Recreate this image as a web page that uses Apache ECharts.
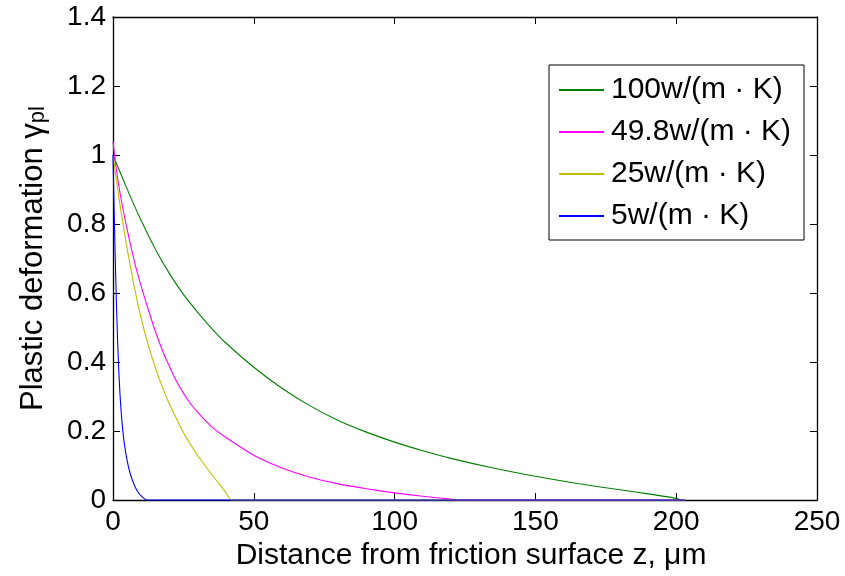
<!DOCTYPE html>
<html>
<head>
<meta charset="utf-8">
<script src="https://cdn.jsdelivr.net/npm/echarts@6/dist/echarts.min.js"></script>
<style>html,body{margin:0;padding:0;background:#fff;}#c{width:845px;height:576px;}</style>
</head>
<body>
<div id="c"></div>
<script>
// Data
var seriesNames = ['100w/(m \u00b7 K)', '49.8w/(m \u00b7 K)', '25w/(m \u00b7 K)', '5w/(m \u00b7 K)'];
var seriesColors = ['#008000', '#ff00ff', '#bfbf00', '#0000ff'];

var greenZ = [0, 5, 10, 15, 20, 25, 30, 35, 40, 50, 60, 70, 80, 90, 100, 110, 120, 135, 150, 165, 180, 190, 200, 202, 203];
var greenV = [1.0, 0.902, 0.81, 0.728, 0.657, 0.596, 0.545, 0.498, 0.456, 0.385, 0.324, 0.273, 0.231, 0.197, 0.168, 0.143, 0.121, 0.093, 0.069, 0.048, 0.030, 0.018, 0.005, 0, 0];

var magentaZ = [0, 1, 2.5, 5, 7.5, 10, 12.5, 15, 17.5, 20, 22.5, 25, 27.5, 30, 35, 40, 50, 60, 70, 80, 90, 100, 110, 120, 123, 203];
var magentaV = [1.039, 0.97, 0.89, 0.785, 0.695, 0.62, 0.553, 0.49, 0.435, 0.388, 0.345, 0.31, 0.28, 0.255, 0.213, 0.182, 0.13, 0.093, 0.066, 0.047, 0.033, 0.021, 0.011, 0.003, 0, 0];

var yellowZ = [0, 1, 2.5, 5, 7.5, 10, 12.5, 15, 17.5, 20, 25, 30, 35, 40, 42, 203];
var yellowV = [1.0, 0.94, 0.855, 0.73, 0.62, 0.527, 0.45, 0.385, 0.328, 0.279, 0.196, 0.13, 0.075, 0.023, 0, 0];

var blueZ = [0, 0.4, 0.8, 1.2, 1.6, 2, 2.5, 3, 3.5, 4, 5, 6, 7, 8, 9, 10, 11, 12, 203];
var blueV = [1.0, 0.84, 0.7, 0.575, 0.47, 0.385, 0.305, 0.245, 0.2, 0.165, 0.115, 0.08, 0.055, 0.036, 0.022, 0.012, 0.005, 0, 0];

var xTicks = [0, 50, 100, 150, 200, 250];
var yTicks = [0, 0.2, 0.4, 0.6, 0.8, 1, 1.2, 1.4];

function pairs(z, v) { return z.map(function (x, i) { return [x, v[i]]; }); }
var allData = [pairs(greenZ, greenV), pairs(magentaZ, magentaV), pairs(yellowZ, yellowV), pairs(blueZ, blueV)];

var FONT = 'Liberation Sans, Arial, Helvetica, sans-serif';
var chart = echarts.init(document.getElementById('c'), null, {renderer: 'canvas'});

var axisLine = {show: true, onZero: false, lineStyle: {color: '#000', width: 1.3}};
var axisTick = {show: true, inside: true, length: 7, lineStyle: {color: '#000', width: 1}};

chart.setOption({
  animation: false,
  backgroundColor: '#fff',
  grid: {left: 113, right: 28, top: 17, bottom: 71.5, containLabel: false},
  legend: {
    orient: 'vertical', left: 549, top: 65,
    data: seriesNames,
    borderColor: '#000', borderWidth: 1, backgroundColor: '#fff',
    padding: [10, 13, 9, 9],
    itemWidth: 45, itemHeight: 30, itemGap: 12,
    itemStyle: {opacity: 0},
    textStyle: {fontSize: 30, fontFamily: FONT, color: '#000', padding: [0, 0, 0, 2]}
  },
  xAxis: [{
    type: 'value', min: xTicks[0], max: xTicks[xTicks.length - 1], interval: 50,
    position: 'bottom',
    name: 'Distance from friction surface z, \u03bcm',
    nameLocation: 'middle', nameGap: 34,
    nameTextStyle: {fontSize: 30, fontFamily: FONT, color: '#000', padding: [0, 0, 0, 12]},
    axisLine: axisLine, axisTick: axisTick,
    axisLabel: {fontSize: 28, fontFamily: FONT, color: '#000', margin: 8},
    splitLine: {show: false}
  }, {
    type: 'value', min: xTicks[0], max: xTicks[xTicks.length - 1], interval: 50,
    position: 'top',
    axisLine: axisLine, axisTick: axisTick,
    axisLabel: {show: false}, splitLine: {show: false}
  }],
  yAxis: [{
    type: 'value', min: yTicks[0], max: yTicks[yTicks.length - 1], interval: 0.2,
    position: 'left',
    name: '{a|Plastic deformation \u03b3}{b|pl}',
    nameLocation: 'middle', nameGap: 64,
    nameTextStyle: {
      fontFamily: FONT, color: '#000',
      rich: {
        a: {fontSize: 31, fontFamily: FONT, color: '#000', lineHeight: 31, verticalAlign: 'top'},
        b: {fontSize: 22, fontFamily: FONT, color: '#000', lineHeight: 22, verticalAlign: 'bottom', padding: [11, 0, 0, 0]}
      }
    },
    axisLine: axisLine, axisTick: axisTick,
    axisLabel: {fontSize: 28, fontFamily: FONT, color: '#000', margin: 7,
      formatter: function (v) { return String(Math.round(v * 10) / 10); }},
    splitLine: {show: false}
  }, {
    type: 'value', min: yTicks[0], max: yTicks[yTicks.length - 1], interval: 0.2,
    position: 'right',
    axisLine: axisLine, axisTick: axisTick,
    axisLabel: {show: false}, splitLine: {show: false}
  }],
  series: allData.map(function (d, i) {
    return {
      name: seriesNames[i], type: 'line', data: d,
      xAxisIndex: 0, yAxisIndex: 0,
      symbol: 'none', showSymbol: false,
      smooth: 0.2,
      lineStyle: {color: seriesColors[i], width: 1.1},
      itemStyle: {color: seriesColors[i]},
      z: 2 + i
    };
  })
});
</script>
</body>
</html>
